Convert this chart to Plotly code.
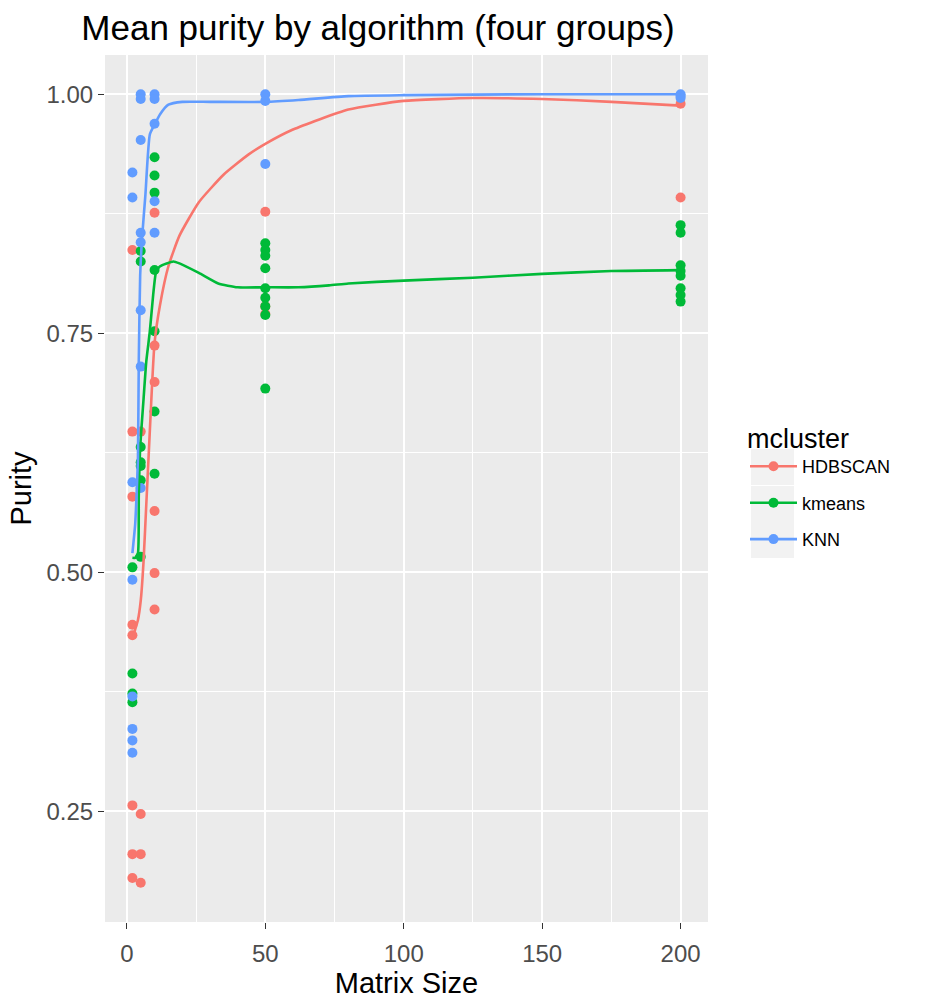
import plotly.graph_objects as go

# Observed purity per algorithm and matrix size
hdb_x = [2, 2, 2, 2, 2, 2, 2, 2, 5, 5, 5, 5, 10, 10, 10, 10, 10, 10, 50, 50, 50, 200, 200]
hdb_y = [0.837, 0.647, 0.579, 0.445, 0.434, 0.256, 0.205, 0.180,
         0.647, 0.247, 0.205, 0.175,
         0.876, 0.737, 0.699, 0.564, 0.499, 0.461,
         0.877, 0.778, 0.770,
         0.892, 0.990]

km_x = [2, 2, 2, 2, 5, 5, 5, 5, 5, 5, 5, 10, 10, 10, 10, 10, 10, 10,
        50, 50, 50, 50, 50, 50, 50, 50, 50,
        200, 200, 200, 200, 200, 200, 200, 200]
km_y = [0.505, 0.394, 0.373, 0.364,
        0.836, 0.825, 0.631, 0.615, 0.611, 0.596, 0.516,
        0.934, 0.915, 0.897, 0.816, 0.752, 0.668, 0.603,
        0.844, 0.837, 0.831, 0.818, 0.797, 0.787, 0.778, 0.769, 0.692,
        0.863, 0.855, 0.821, 0.815, 0.810, 0.797, 0.790, 0.783]

knn_x = [2, 2, 2, 2, 2, 2, 2, 2, 5, 5, 5, 5, 5, 5, 5, 5,
         10, 10, 10, 10, 10, 50, 50, 50, 200, 200, 200]
knn_y = [0.918, 0.892, 0.594, 0.492, 0.370, 0.336, 0.324, 0.311,
         1.000, 0.995, 0.952, 0.855, 0.845, 0.774, 0.715, 0.588,
         1.000, 0.995, 0.969, 0.888, 0.855,
         1.000, 0.993, 0.927,
         1.000, 0.998, 0.996]

# Smoothed (loess) trend per algorithm
hdb_fit_x = [2, 3, 4, 5, 6, 7, 8, 9, 10, 12, 15, 19, 26, 35, 44, 50, 60, 80, 100, 125, 150, 175, 200]
hdb_fit_y = [0.430, 0.440, 0.450, 0.470, 0.510, 0.570, 0.630, 0.690, 0.740, 0.780, 0.820, 0.852,
             0.887, 0.916, 0.937, 0.948, 0.963, 0.984, 0.993, 0.996, 0.995, 0.992, 0.988]

km_fit_x = [2, 3, 4, 4.3, 4.8, 6, 7, 8.3, 9.5, 10.6, 12, 16.8, 19, 26, 33, 40, 50, 62, 73, 80, 100, 125, 150, 175, 200]
km_fit_y = [0.515, 0.515, 0.520, 0.580, 0.630, 0.680, 0.720, 0.752, 0.790, 0.815, 0.820, 0.825,
            0.823, 0.813, 0.802, 0.798, 0.798, 0.798, 0.800, 0.802, 0.805, 0.808, 0.812, 0.815, 0.816]

knn_fit_x = [2, 3, 3.5, 4, 4.3, 4.8, 5.5, 6.7, 8.3, 10, 12, 15, 20, 30, 50, 62, 80, 100, 150, 200]
knn_fit_y = [0.520, 0.550, 0.580, 0.620, 0.720, 0.810, 0.850, 0.895, 0.958, 0.968, 0.979, 0.989,
             0.992, 0.992, 0.992, 0.994, 0.998, 0.999, 1.000, 1.000]

names = ["HDBSCAN", "kmeans", "KNN"]
colors = ["#F8766D", "#00BA38", "#619CFF"]

x_ticks = [0, 50, 100, 150, 200]
y_ticks = [0.25, 0.50, 0.75, 1.00]
y_tick_text = ["0.25", "0.50", "0.75", "1.00"]

FONT = "Liberation Sans, Arial, sans-serif"

# Plot-area geometry in pixels
W, H = 935, 1003
ML, MR, MT, MB = 105, 227, 55, 81
PW, PH = W - ML - MR, H - MT - MB


def px_to_paper_x(px):
    return (px - ML) / PW


def px_to_paper_y(py):
    return (H - MB - py) / PH


fig = go.Figure()

series = [
    (hdb_x, hdb_y, hdb_fit_x, hdb_fit_y),
    (km_x, km_y, km_fit_x, km_fit_y),
    (knn_x, knn_y, knn_fit_x, knn_fit_y),
]

for (px, py, fx, fy), name, col in zip(series, names, colors):
    fig.add_trace(go.Scatter(
        x=px, y=py, mode="markers", name=name, legendgroup=name, showlegend=False,
        marker=dict(color=col, size=10, line=dict(width=0)),
    ))

for (px, py, fx, fy), name, col in zip(series, names, colors):
    fig.add_trace(go.Scatter(
        x=fx, y=fy, mode="lines", name=name, legendgroup=name, showlegend=False,
        line=dict(color=col, width=2.6, shape="spline", smoothing=0.5),
    ))

# Legend keys: line with point
for name, col in zip(names, colors):
    fig.add_trace(go.Scatter(
        x=[None], y=[None], mode="lines+markers", name=name, legendgroup=name,
        marker=dict(color=col, size=10), line=dict(color=col, width=2.6),
    ))

# Light grey key backgrounds behind the legend glyphs
key_centers = [467, 504, 540]
shapes = []
for cy in key_centers:
    shapes.append(dict(
        type="rect", xref="paper", yref="paper",
        x0=px_to_paper_x(751), x1=px_to_paper_x(794),
        y0=px_to_paper_y(cy + 18), y1=px_to_paper_y(cy - 18),
        fillcolor="#F2F2F2", line=dict(width=0), layer="below",
    ))

fig.update_layout(
    width=W, height=H,
    margin=dict(l=ML, r=MR, t=MT, b=MB, autoexpand=False),
    paper_bgcolor="white",
    plot_bgcolor="#EBEBEB",
    font=dict(family=FONT, color="black"),
    shapes=shapes,
    title=dict(
        text="Mean purity by algorithm (four groups)",
        x=378 / W, xanchor="center", y=1 - 28 / H, yanchor="middle",
        font=dict(size=35, color="black", family=FONT),
    ),
    showlegend=True,
    legend=dict(
        title=dict(text="mcluster", font=dict(size=27, color="black")),
        font=dict(size=18, color="black"),
        x=px_to_paper_x(745), xanchor="left",
        y=px_to_paper_y(413), yanchor="top",
        bgcolor="rgba(0,0,0,0)",
        itemwidth=47,
        tracegroupgap=10,
    ),
    xaxis=dict(
        range=[-7.9, 209.9], tickvals=x_ticks, ticktext=[str(v) for v in x_ticks],
        showgrid=True, gridcolor="white", gridwidth=1.6, zeroline=False,
        ticks="outside", ticklen=6, tickwidth=1.4, tickcolor="#333333",
        tickfont=dict(size=24, color="#4D4D4D"), ticklabelstandoff=4,
        title=dict(text="Matrix Size", font=dict(size=29, color="black"), standoff=6),
        minor=dict(tickvals=[25, 75, 125, 175], showgrid=True, gridcolor="white", gridwidth=0.8, ticks=""),
        showline=False, automargin=False,
    ),
    yaxis=dict(
        range=[0.134, 1.041], tickvals=y_ticks, ticktext=y_tick_text,
        showgrid=True, gridcolor="white", gridwidth=1.6, zeroline=False,
        ticks="outside", ticklen=6, tickwidth=1.4, tickcolor="#333333",
        tickfont=dict(size=24, color="#4D4D4D"),
        title=dict(text="Purity", font=dict(size=29, color="black"), standoff=6),
        minor=dict(tickvals=[0.375, 0.625, 0.875], showgrid=True, gridcolor="white", gridwidth=0.8, ticks=""),
        showline=False, automargin=False,
    ),
)

fig.write_html("out.html")
